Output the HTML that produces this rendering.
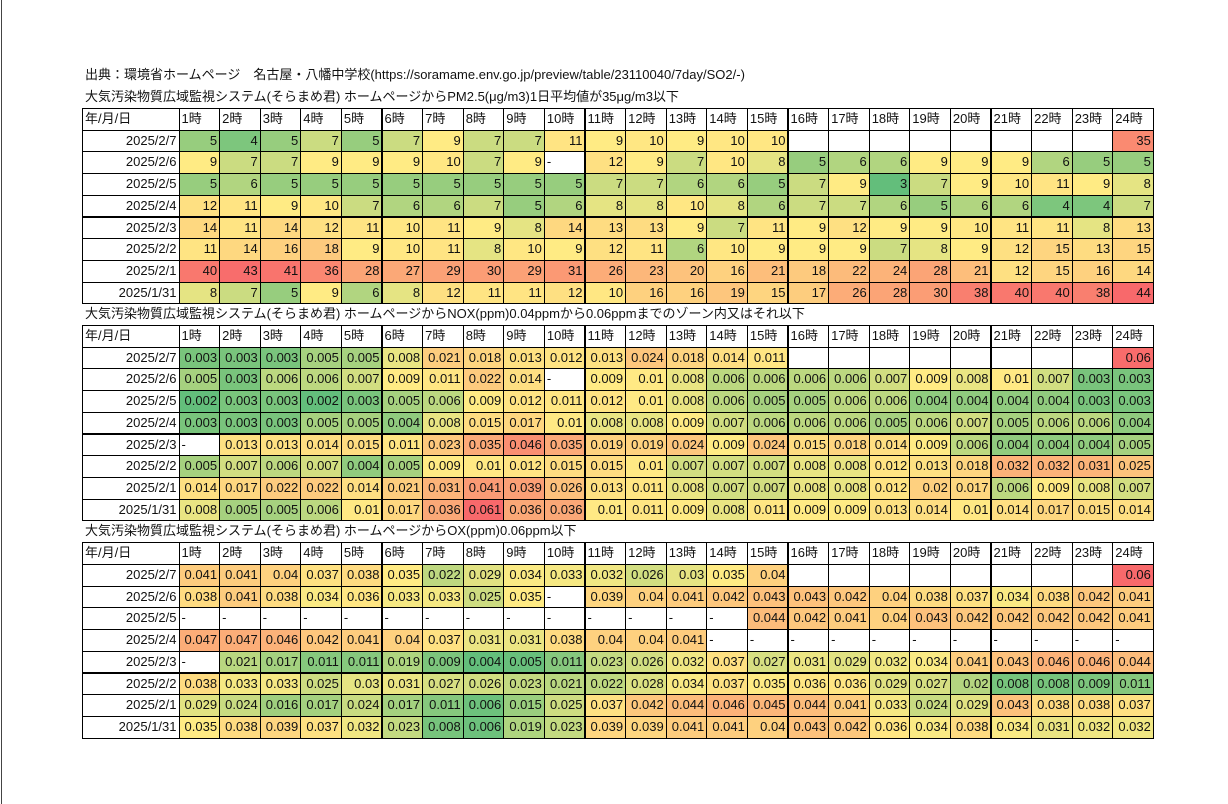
<!DOCTYPE html>
<html><head><meta charset="utf-8">
<style>
body{margin:0;width:1228px;height:804px;background:#fff;position:relative;overflow:hidden;font-family:"Liberation Sans","Noto Sans CJK JP",sans-serif;}
#edge{position:absolute;left:1px;top:0;width:1px;height:804px;background:#444;}
.t{position:absolute;font-size:13px;color:#111;white-space:nowrap;line-height:16px;}
.c{position:absolute;box-sizing:border-box;border:1px solid #000;font-size:13px;line-height:20px;padding:0 2px;white-space:nowrap;overflow:hidden;color:#111;}
.r{text-align:right;}
</style></head><body>
<div id="edge"></div>
<div class="t" style="left:85px;top:67px">出典：環境省ホームページ　名古屋・八幡中学校(https://soramame.env.go.jp/preview/table/23110040/7day/SO2/-)</div>
<div class="t" style="left:85px;top:89px">大気汚染物質広域監視システム(そらまめ君) ホームページからPM2.5(μg/m3)1日平均値が35μg/m3以下</div>
<div class="t" style="left:85px;top:306px">大気汚染物質広域監視システム(そらまめ君) ホームページからNOX(ppm)0.04ppmから0.06ppmまでのゾーン内又はそれ以下</div>
<div class="t" style="left:85px;top:523px">大気汚染物質広域監視システム(そらまめ君) ホームページからOX(ppm)0.06ppm以下</div>
<div id="root"></div>
<script>
const dates=["2025/2/7","2025/2/6","2025/2/5","2025/2/4","2025/2/3","2025/2/2","2025/2/1","2025/1/31"];
const hours=["1時","2時","3時","4時","5時","6時","7時","8時","9時","10時","11時","12時","13時","14時","15時","16時","17時","18時","19時","20時","21時","22時","23時","24時"];
const B=null, D="-";
const pm25=[
[5,4,5,7,5,7,9,7,7,11,9,10,9,10,10,B,B,B,B,B,B,B,B,35],
[9,7,7,9,9,9,10,7,9,D,12,9,7,10,8,5,6,6,9,9,9,6,5,5],
[5,6,5,5,5,5,5,5,5,5,7,7,6,6,5,7,9,3,7,9,10,11,9,8],
[12,11,9,10,7,6,6,7,5,6,8,8,10,8,6,7,7,6,5,6,6,4,4,7],
[14,11,14,12,11,10,11,9,8,14,13,13,9,7,11,9,12,9,9,10,11,11,8,13],
[11,14,16,18,9,10,11,8,10,9,12,11,6,10,9,9,9,7,8,9,12,15,13,15],
[40,43,41,36,28,27,29,30,29,31,26,23,20,16,21,18,22,24,28,21,12,15,16,14],
[8,7,5,9,6,8,12,11,11,12,10,16,16,19,15,17,26,28,30,38,40,40,38,44]];
const nox=[
[.003,.003,.003,.005,.005,.008,.021,.018,.013,.012,.013,.024,.018,.014,.011,B,B,B,B,B,B,B,B,.06],
[.005,.003,.006,.006,.007,.009,.011,.022,.014,D,.009,.01,.008,.006,.006,.006,.006,.007,.009,.008,.01,.007,.003,.003],
[.002,.003,.003,.002,.003,.005,.006,.009,.012,.011,.012,.01,.008,.006,.005,.005,.006,.006,.004,.004,.004,.004,.003,.003],
[.003,.003,.003,.005,.005,.004,.008,.015,.017,.01,.008,.008,.009,.007,.006,.006,.006,.005,.006,.007,.005,.006,.006,.004],
[D,.013,.013,.014,.015,.011,.023,.035,.046,.035,.019,.019,.024,.009,.024,.015,.018,.014,.009,.006,.004,.004,.004,.005],
[.005,.007,.006,.007,.004,.005,.009,.01,.012,.015,.015,.01,.007,.007,.007,.008,.008,.012,.013,.018,.032,.032,.031,.025],
[.014,.017,.022,.022,.014,.021,.031,.041,.039,.026,.013,.011,.008,.007,.007,.008,.008,.012,.02,.017,.006,.009,.008,.007],
[.008,.005,.005,.006,.01,.017,.036,.061,.036,.036,.01,.011,.009,.008,.011,.009,.009,.013,.014,.01,.014,.017,.015,.014]];
const ox=[
[.041,.041,.04,.037,.038,.035,.022,.029,.034,.033,.032,.026,.03,.035,.04,B,B,B,B,B,B,B,B,.06],
[.038,.041,.038,.034,.036,.033,.033,.025,.035,D,.039,.04,.041,.042,.043,.043,.042,.04,.038,.037,.034,.038,.042,.041],
[D,D,D,D,D,D,D,D,D,D,D,D,D,D,.044,.042,.041,.04,.043,.042,.042,.042,.042,.041],
[.047,.047,.046,.042,.041,.04,.037,.031,.031,.038,.04,.04,.041,D,D,D,D,D,D,D,D,D,D,D],
[D,.021,.017,.011,.011,.019,.009,.004,.005,.011,.023,.026,.032,.037,.027,.031,.029,.032,.034,.041,.043,.046,.046,.044],
[.038,.033,.033,.025,.03,.031,.027,.026,.023,.021,.022,.028,.034,.037,.035,.036,.036,.029,.027,.02,.008,.008,.009,.011],
[.029,.024,.016,.017,.024,.017,.011,.006,.015,.025,.037,.042,.044,.046,.045,.044,.041,.033,.024,.029,.043,.038,.038,.037],
[.035,.038,.039,.037,.032,.023,.008,.006,.019,.023,.039,.039,.041,.041,.04,.043,.042,.036,.034,.038,.034,.031,.032,.032]];

const G=[99,190,123],Y=[255,235,132],R=[248,105,107];
function mix(a,b,t){return 'rgb('+a.map((v,i)=>Math.round(v+(b[i]-v)*t)).join(',')+')';}
function scale(data){
  const v=data.flat().filter(x=>typeof x==='number').sort((a,b)=>a-b);
  const mn=v[0],mx=v[v.length-1],n=v.length;
  const p=(n-1)*0.5,lo=Math.floor(p),md=v[lo]+(v[Math.ceil(p)]-v[lo])*(p-lo);
  return x=>x<=md?mix(G,Y,md===mn?1:(x-mn)/(md-mn)):mix(Y,R,mx===md?1:(x-md)/(mx-md));
}
const root=document.getElementById('root');
const X0=82,LW=96.5,CW=40.6,RH=21.7;
function cell(x,y,w,txt,cls,bg,name,i){
  const d=document.createElement('div');
  d.className='c '+cls;
  d.style.left=x+'px';d.style.top=y+'px';d.style.width=(w+1)+'px';d.style.height=(RH+1)+'px';
  if(bg)d.style.background=bg;
  d.textContent=txt;
  
  
  root.appendChild(d);
}
function table(data,top,key){
  const col=scale(data);
  cell(X0,top,LW,'年/月/日','',null,key+'-header-date');
  hours.forEach((h,j)=>cell(X0+LW+j*CW,top,CW,h,'',null,key+'-header-hour'));
  dates.forEach((d,i)=>{
    const y=top+(i+1)*RH;
    cell(X0,y,LW,d,'r',null,key+'-row-date');
    data[i].forEach((v,j)=>{
      const x=X0+LW+j*CW;
      if(typeof v==='number')cell(x,y,CW,String(v),'r',col(v),key+'-cell');
      else cell(x,y,CW,v===null?'':v,'',null,key+'-cell-empty');
    });
  });
}
table(pm25,108,'pm25');
table(nox,325,'nox');
table(ox,542.3,'ox');
</script>
</body></html>
